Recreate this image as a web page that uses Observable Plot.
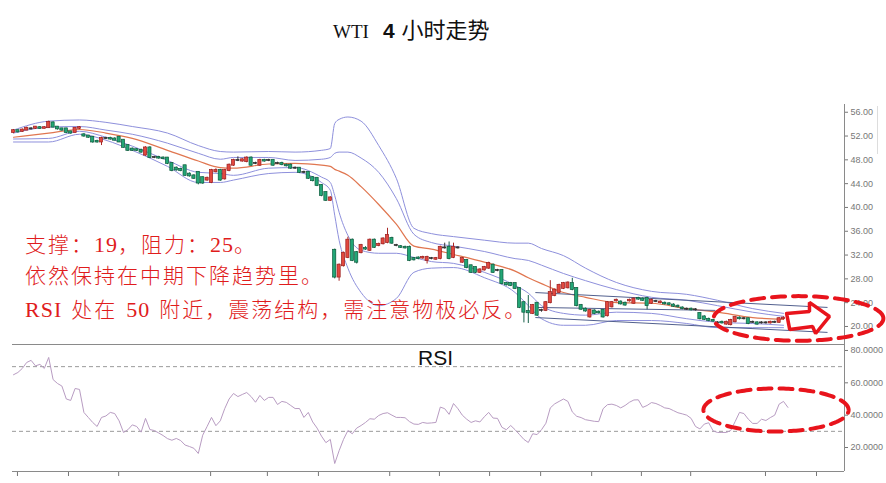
<!DOCTYPE html>
<html><head><meta charset="utf-8">
<script src="https://cdn.jsdelivr.net/npm/d3@7"></script>
<script src="https://cdn.jsdelivr.net/npm/@observablehq/plot@0.6"></script>
<style>
body{margin:0;background:#fff;}
#wrap{position:relative;width:886px;height:483px;overflow:hidden;background:#fff;}
#price,#rsi{position:absolute;left:0;}
#price{top:0;}
#rsi{top:344px;}
.note{position:absolute;left:25px;color:#e01c1c;font-size:21px;line-height:21px;letter-spacing:2px;font-family:"Noto Sans CJK SC",sans-serif;font-weight:300;white-space:nowrap;z-index:5;text-spacing-trim:space-all;}
.lat{font-family:"Liberation Serif",serif;letter-spacing:1px;font-size:22px;}
.sp{display:inline-block;width:9px;}
#title{position:absolute;top:14px;left:333px;white-space:nowrap;line-height:28px;color:#111;}
#rsilab{position:absolute;left:418px;top:347px;font-family:"Liberation Sans",Arial,sans-serif;font-size:21px;line-height:21px;color:#111;z-index:5;}
#scroll{position:absolute;left:877px;top:106px;width:1px;height:48px;background:#ddd;}
</style></head>
<body>
<div id="wrap">
  <div id="price"></div>
  <div id="rsi"></div>
  <div id="title"><span style="font-family:'Liberation Serif',serif;font-size:19px;">WTI</span><span style="font-family:'Liberation Sans',Arial,sans-serif;font-weight:bold;font-size:21px;margin-left:14px;">4</span><span style="font-family:'Noto Sans CJK SC',sans-serif;font-size:22px;margin-left:7px;">小时走势</span></div>
  <div class="note" style="top:232.5px;">支撑：<span class="lat">19</span>，阻力：<span class="lat">25</span>。</div>
  <div class="note" style="top:263.5px;">依然保持在中期下降趋势里。</div>
  <div class="note" style="top:297.5px;"><span class="lat">RSI</span><span class="sp"></span>处在<span class="sp"></span><span class="lat">50</span><span class="sp"></span>附近，震荡结构，需注意物极必反。</div>
  <div id="rsilab">RSI</div>
  <div id="scroll"></div>
</div>
<script>
// ---- candle data (4h candles, index = time order) ----
const openP = [52.6,52.9,52.8,53.0,53.2,53.3,53.4,53.3,53.4,54.2, 53.5,53.2,53.2,52.7,52.6,53.3,52.2,52.0,51.8,51.1, 51.0,51.6,51.6,51.5,51.8,51.3,50.4,49.8,49.7,49.6, 48.8,50.0,48.4,48.4,48.3,48.3,47.4,46.6,46.4,47.0, 45.6,45.3,45.9,45.0,44.6,44.2,46.0,46.2,44.8,46.2, 47.1,47.9,47.8,47.7,48.3,47.4,47.1,47.9,47.9,47.9, 47.4,47.4,47.1,47.1,46.6,46.6,45.9,45.9,45.0,44.9, 43.7,42.5,41.2,32.8,28.3,30.2,31.6,34.5,32.4,32.4, 33.1,32.8,34.5,33.6,33.9,34.1,34.8,33.6,33.4,33.3, 33.3,31.4,31.5,31.5,31.1,31.4,31.3,31.4,33.2,33.3, 31.6,33.2,30.8,31.1,30.2,29.9,29.1,29.5,29.8,30.3, 29.4,29.4,27.2,27.2,27.2,26.4,24.0,22.5,22.2,23.9, 22.7,22.7,24.0,25.2,25.7,26.4,26.5,27.2,26.4,23.5, 22.9,21.6,22.6,22.4,22.7,21.8,23.3,24.3,24.1,23.9, 24.3,23.9,24.7,24.6,24.7,23.9,24.2,24.0,23.9,23.8, 23.6,23.4,23.1,22.9,22.9,22.8,22.2,21.6,21.2,21.0, 20.6,20.7,20.4,20.3,20.8,21.4,21.3,21.3,20.7,20.6, 20.6,20.6,20.6,20.7,20.7,21.3];
const closeP = [52.9,52.7,53.0,53.3,53.2,53.5,53.3,53.4,54.3,53.5, 53.2,53.0,52.6,52.5,53.3,53.4,52.0,51.8,51.0,51.0, 51.6,51.6,51.5,51.3,51.0,50.1,49.6,49.6,49.6,49.3, 50.0,48.4,48.4,48.3,48.2,47.4,46.2,46.3,46.2,45.4, 45.3,44.9,44.1,44.1,44.9,46.2,46.2,44.6,46.2,47.1, 47.9,47.9,48.0,48.3,47.1,47.4,47.9,47.8,47.9,47.1, 47.4,47.2,47.0,46.6,46.6,45.9,45.9,44.9,44.5,43.7, 42.0,41.2,41.6,28.3,30.3,32.3,34.5,31.1,30.8,33.6, 33.0,34.5,33.3,33.8,34.7,35.3,34.0,33.6,33.3,33.2, 31.1,31.2,31.4,31.6,31.6,31.4,31.4,33.3,33.2,31.4, 33.3,33.2,31.4,29.9,29.1,29.1,29.5,29.9,30.6,29.1, 29.4,27.2,27.0,26.9,26.4,23.2,22.4,22.3,23.5,21.9, 22.7,24.0,25.7,26.1,26.9,27.2,27.3,26.2,23.5,22.9, 22.6,22.7,22.2,22.3,21.6,24.0,24.0,24.4,23.8,23.6, 24.4,24.6,24.6,24.4,23.5,24.4,24.2,24.1,23.8,23.7, 23.4,23.3,23.0,22.9,22.8,22.8,21.3,21.2,21.0,20.9, 20.6,20.6,20.7,21.0,21.5,21.3,21.3,20.5,20.7,20.4, 20.6,20.6,20.7,20.7,21.3,21.4];
const highP = [53.1,53.0,53.2,53.5,53.4,53.6,53.6,53.6,54.5,54.4, 53.6,53.3,53.3,52.8,53.4,53.6,52.4,52.1,51.9,51.3, 51.8,51.8,51.8,51.7,51.9,51.4,50.5,50.0,49.9,49.8, 50.2,50.2,48.6,48.6,48.5,48.4,47.5,46.8,46.6,47.1, 45.8,45.5,46.0,45.1,45.1,46.4,46.5,46.4,46.4,47.3, 48.1,48.5,48.2,48.5,48.5,47.6,48.1,48.1,48.1,48.0, 47.6,47.6,47.3,47.3,46.8,46.7,46.1,46.0,45.2,45.0, 43.8,42.6,41.8,33.0,30.5,32.5,35.0,34.7,32.6,33.8, 33.4,34.7,34.7,34.0,34.9,36.5,35.0,33.8,33.6,33.5, 33.5,31.6,31.7,31.8,31.8,31.6,31.6,33.5,34.0,34.2, 34.0,33.4,31.6,31.2,30.3,30.0,29.7,30.1,30.8,30.5, 29.6,29.5,27.4,27.4,27.3,26.5,24.1,25.2,23.7,24.0, 22.9,24.2,27.7,26.3,27.1,27.4,27.5,28.1,26.5,23.7, 23.1,22.9,22.8,22.6,22.8,24.2,24.2,24.6,24.3,24.1, 24.6,24.8,24.9,24.8,24.9,24.6,24.4,24.3,24.1,24.0, 23.8,23.6,23.3,23.1,23.1,23.0,22.3,21.8,21.4,21.2, 20.8,20.9,20.9,21.2,21.7,21.6,21.5,21.4,20.9,20.8, 20.8,20.8,20.9,20.9,21.5,21.6];
const lowP = [52.4,52.5,52.6,52.9,53.0,53.1,53.1,53.2,53.3,53.4, 53.0,52.8,52.4,52.3,52.5,53.1,51.8,51.6,50.8,50.8, 50.4,51.4,51.3,51.2,50.9,50.0,49.4,49.4,49.4,49.1, 48.6,48.2,48.2,48.1,48.0,47.2,46.0,46.1,46.0,45.2, 45.1,44.7,43.8,43.9,44.4,44.0,45.8,44.4,44.6,46.0, 46.9,47.7,47.6,47.5,46.9,47.2,46.9,47.6,47.7,46.9, 47.2,47.0,46.8,46.4,46.4,45.7,45.7,44.7,44.3,43.5, 41.8,41.0,41.0,28.0,27.6,30.0,31.4,30.9,30.5,32.2, 32.8,32.6,33.1,33.4,33.7,33.9,33.8,33.4,33.1,33.0, 30.9,31.0,31.2,31.3,30.5,31.2,31.1,31.2,33.0,31.2, 31.4,33.0,30.6,29.7,28.9,28.9,28.9,29.3,29.6,28.9, 29.2,27.0,26.8,26.7,26.2,23.0,20.6,20.5,22.0,21.7, 22.4,22.5,23.8,25.0,25.5,26.2,26.3,26.0,23.3,22.7, 22.4,21.4,22.0,22.1,21.4,21.6,23.1,24.1,23.6,23.4, 24.1,23.7,24.4,24.2,22.8,23.7,24.0,23.8,23.6,23.5, 23.2,23.1,22.8,22.7,22.6,22.6,21.1,21.0,20.8,20.7, 20.4,20.4,20.2,20.1,20.6,21.1,21.1,20.3,20.5,20.2, 20.4,20.4,20.4,20.5,20.5,21.1];

// ---- band lines read at these candle indices ----
const bandIdx = [0,8,15,21,27,35,42,47,50,58,64,70,72,73,74,76,79,83,87,91,95,100,107,114,117,120,125,130,137,145,153,160,168,175];
const bandOuterUp = [53.0,54.5,54.7,54.3,53.6,52.5,50.4,49.4,49.3,49.4,49.3,49.6,49.9,54.1,54.8,55.2,54.5,50.4,44.9,36.5,35.6,35.1,34.5,34.0,34.0,33.1,31.9,29.8,27.4,25.9,25.4,24.4,23.0,22.2];
const bandInnerUp = [52.5,53.5,53.6,53.0,52.3,50.8,49.1,48.1,48.4,48.4,47.9,48.1,48.4,49.1,49.3,49.3,48.3,45.9,41.5,35.5,34.1,33.5,32.6,31.4,31.1,30.3,28.9,27.7,26.2,24.9,24.4,23.5,22.4,21.7];
const bandMid = [51.8,52.5,53.1,52.5,51.6,49.6,47.8,46.7,46.6,47.3,47.4,47.1,46.9,46.4,46.1,45.4,43.5,40.5,37.2,33.5,33.0,32.1,30.8,29.3,28.2,27.2,25.7,24.9,24.0,23.9,23.0,22.4,21.5,21.2];
const bandInnerLow = [51.5,51.6,52.8,51.8,50.3,47.9,45.9,45.7,45.4,46.6,46.7,45.1,44.2,42.0,39.2,35.3,32.8,32.3,32.3,31.6,30.9,30.6,29.1,26.9,25.6,23.5,22.2,21.9,22.4,22.2,21.3,20.7,20.5,20.2];
const bandOuterLow = [51.0,51.0,52.3,51.3,49.6,46.9,44.2,44.2,44.6,45.7,45.9,44.2,42.9,38.7,34.5,29.8,25.7,23.5,24.7,29.1,29.8,29.9,28.2,25.7,23.5,21.3,20.2,20.2,21.0,21.0,20.5,19.8,19.8,19.8];

// ---- channel (trend) lines: start/end index and price ----
const trendStartIdx = [118.6, 118.6, 118.6];
const trendStartVal = [25.7, 23.2, 21.5];
const trendEndIdx = [185, 159.5, 185];
const trendEndVal = [23.2, 22.7, 19.0];

// ---- RSI, one value per 4h bar ----
const rsiVals = [65,66.4,68.9,72.6,73.9,70.5,71.4,68.9,75.7,62, 59.6,58,50,49.1,56.5,55.9,41.7,38.6,35.5,33, 38.6,39.5,41.7,41,36.5,29.3,31,34,33,29.5, 38,31.1,30.5,29,27.4,25.5,24.5,25.6,24.3,21.5, 20.6,19.5,16.3,27.6,33,38.6,33.5,36.5,44,50, 53.4,51.5,52.8,54,51.5,48,52.2,49.1,51,51, 46.6,48.5,47.9,46,44.1,44.1,38.6,41.7,35.8,32, 27,23,25,10.1,18,25,30.5,28.5,32,33.6, 35.5,37.8,37.5,39.8,41,41.5,40,38.6,38.6,38.4, 36,34.5,34.3,35.5,35,35.2,35.5,45,44,40.5, 47.2,44,40,37.5,35.5,36.5,35.8,39,41.7,38.2, 38,32.5,31,33.6,31,28,25,23.1,28.5,28, 31,35,44.5,47,48.5,50,48.5,42,39.3,38.5, 37.2,36.7,36.2,36,44,46.5,46.8,46,44.5,46, 48,49.4,49.5,44.8,46,47.8,47.2,46,44.5,44.1, 42.8,41.5,40.8,40,38,33,31.5,34.5,35.3,30.3, 29.3,29.3,29.3,30.5,36,41.7,41,37.5,34.9,34.9, 37.5,36.7,38.5,40,46.8,48.5,44.8];
const rsiLevels = [70, 30];

// ---- axis ticks ----
const priceTicks = [20,24,28,32,36,40,44,48,52,56];
const rsiTicks = [20,40,60,80];
const timeTicks = [0.9,12.5,23.9,44.8,57.7,69.3,85.5,96.8,108.2,119.8,131.4,142.7,153.9,170.9,182.5];

// ---- build tables ----
const candles = openP.map((o, i) => ({i, o, c: closeP[i], h: highP[i], l: lowP[i]}));
const bands = bandIdx.map((t, k) => ({t, ou: bandOuterUp[k], iu: bandInnerUp[k], m: bandMid[k], il: bandInnerLow[k], ol: bandOuterLow[k]}));
const trends = trendStartIdx.map((t, k) => ({t1: t, v1: trendStartVal[k], t2: trendEndIdx[k], v2: trendEndVal[k]}));
const rsi = rsiVals.map((r, i) => ({t: i, r}));

const xDom = [-0.227, 188.86];
const yDom = [16.97, 57.3];
const rDom = [5.16, 83.7];

const RED = "#e8141c";
function ellipse(cx, cy, rx, ry) {
  return d3.range(0, 361, 2).map(a => ({t: cx + rx * Math.cos(a * Math.PI / 180), v: cy + ry * Math.sin(a * Math.PI / 180)}));
}
// hollow block arrow outline in data space
const arrowT = [175.7, 180.9, 180.9, 185.45, 182.3, 181.6, 176.4, 175.7];
const arrowV = [22.19, 22.52, 24.04, 21.68, 18.82, 20.0, 19.5, 22.19];
const arrow = arrowT.map((t, k) => ({t, v: arrowV[k]}));

const up = d => d.c > d.o, dn = d => d.c < d.o;

const price = Plot.plot({
  width: 886, height: 350,
  marginTop: 104, marginBottom: 6, marginLeft: 12, marginRight: 42,
  x: {domain: xDom, axis: null},
  y: {domain: yDom, axis: "right", ticks: priceTicks, tickFormat: d3.format(".2f"), tickSize: 3, tickPadding: 3, label: null},
  color: {type: "identity"},
  style: {fontSize: "9px", fontFamily: "'Liberation Sans', Arial, sans-serif", color: "#777", background: "transparent"},
  marks: [
    Plot.ruleX([xDom[1]], {stroke: "#8a8a8a"}),
    Plot.ruleY([yDom[0]], {stroke: "#8a8a8a"}),
    Plot.line(bands, {x: "t", y: "ou", stroke: "#8e90dc", strokeWidth: 1, curve: "monotone-x"}),
    Plot.line(bands, {x: "t", y: "iu", stroke: "#8e90dc", strokeWidth: 1, curve: "monotone-x"}),
    Plot.line(bands, {x: "t", y: "il", stroke: "#8e90dc", strokeWidth: 1, curve: "monotone-x"}),
    Plot.line(bands, {x: "t", y: "ol", stroke: "#8e90dc", strokeWidth: 1, curve: "monotone-x"}),
    Plot.line(bands, {x: "t", y: "m", stroke: "#e07650", strokeWidth: 1.2, curve: "monotone-x"}),
    Plot.link(trends, {x1: "t1", y1: "v1", x2: "t2", y2: "v2", stroke: "#52608e", strokeWidth: 1}),
    Plot.ruleX(candles, {x: "i", y1: "l", y2: "h", stroke: d => up(d) ? "#a82626" : dn(d) ? "#17604a" : "#333", strokeWidth: 1}),
    Plot.rect(candles, {x1: d => d.i - 0.36, x2: d => d.i + 0.36, y1: "o", y2: "c", insetTop: -0.5, insetBottom: -0.5,
      fill: d => up(d) ? "#e2483f" : dn(d) ? "#22a676" : "#333",
      stroke: d => up(d) ? "#9a1f1f" : dn(d) ? "#0e5a3c" : "#333", strokeWidth: 0.7}),
    Plot.line(ellipse(178.4, 21.35, 19.3, 3.75), {x: "t", y: "v", stroke: RED, strokeWidth: 4, strokeDasharray: "13,8", curve: "linear"}),
    Plot.line(arrow, {x: "t", y: "v", stroke: RED, strokeWidth: 3.5, fill: "white", strokeLinejoin: "miter", curve: "linear"})
  ]
});
document.getElementById("price").appendChild(price);

const rsiPlot = Plot.plot({
  width: 886, height: 139,
  marginTop: 0, marginBottom: 12, marginLeft: 12, marginRight: 42,
  x: {domain: xDom, ticks: timeTicks, tickFormat: () => "", tickSize: 5, label: null},
  y: {domain: rDom, axis: "right", ticks: rsiTicks, tickFormat: d3.format(".4f"), tickSize: 3, tickPadding: 3, label: null},
  style: {fontSize: "9px", fontFamily: "'Liberation Sans', Arial, sans-serif", color: "#777", background: "transparent"},
  marks: [
    Plot.ruleY(rsiLevels, {stroke: "#9a9a9a", strokeDasharray: "4,3"}),
    Plot.ruleY([rDom[0]], {stroke: "#8a8a8a"}),
    Plot.ruleX([xDom[1]], {stroke: "#8a8a8a"}),
    Plot.line(rsi, {x: "t", y: "r", stroke: "#b89cc2", strokeWidth: 1}),
    Plot.line(ellipse(173.3, 43.2, 16.5, 13.3), {x: "t", y: "v", stroke: RED, strokeWidth: 4, strokeDasharray: "13,8", curve: "linear"})
  ]
});
document.getElementById("rsi").appendChild(rsiPlot);
</script>
</body></html>
